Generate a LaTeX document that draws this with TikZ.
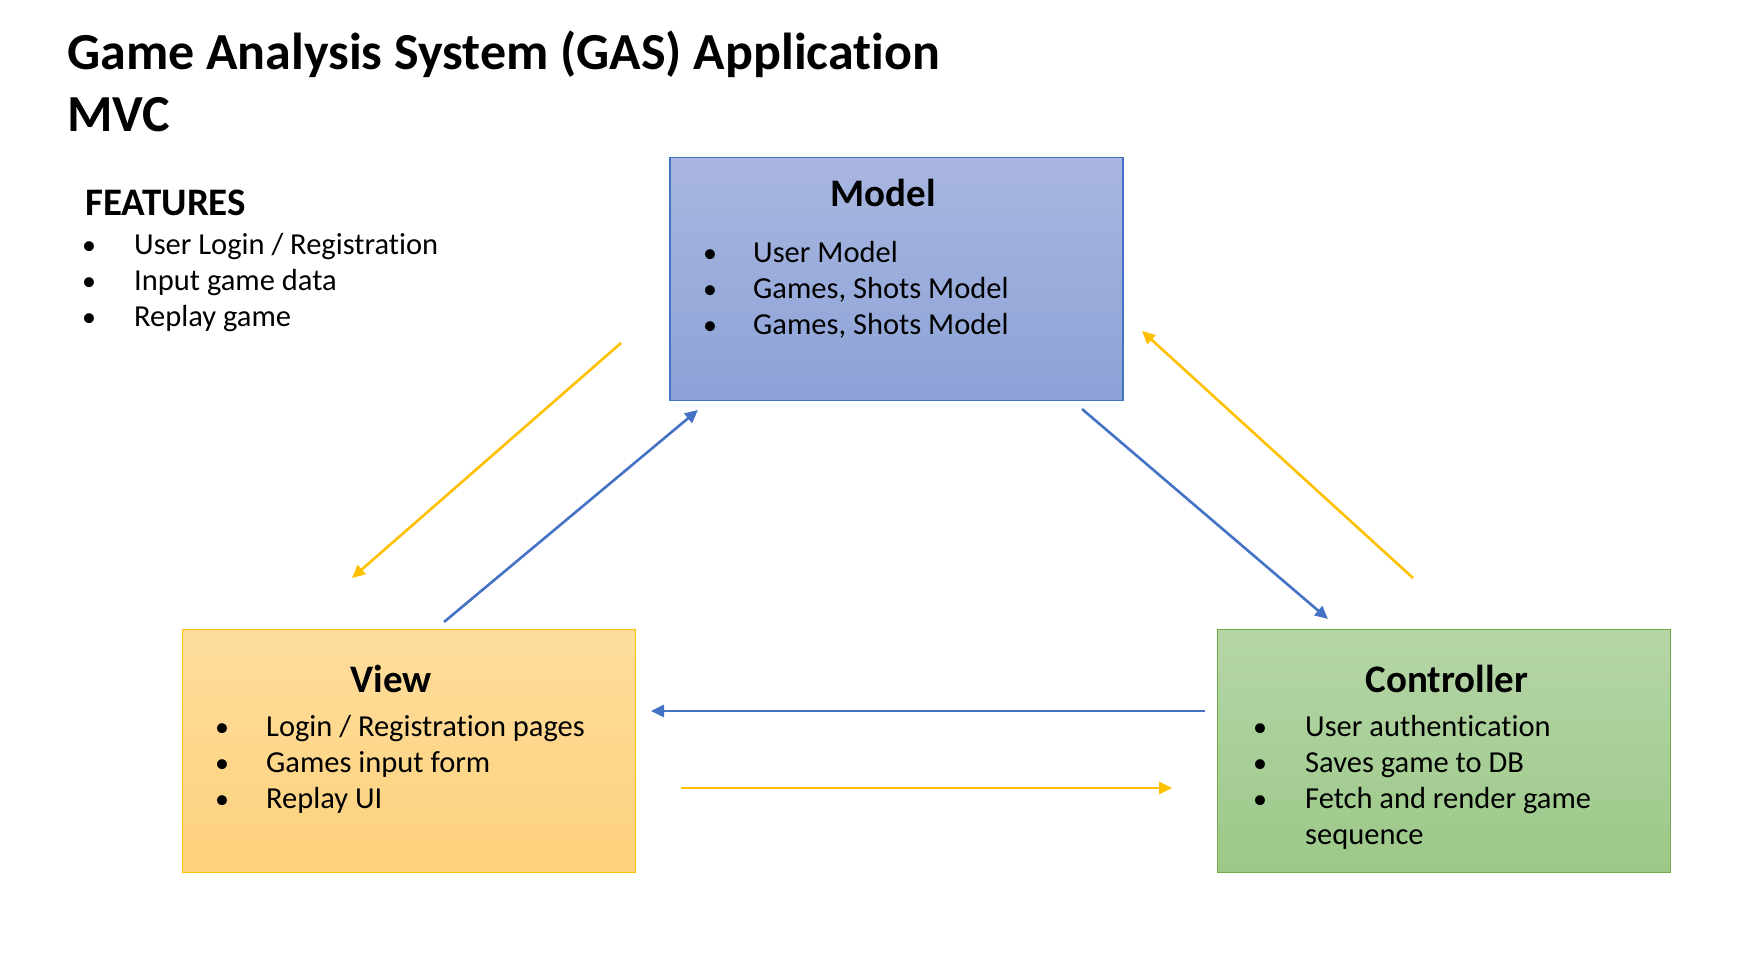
\documentclass[tikz,border=0pt]{standalone}
\usepackage{fontspec}
\setmainfont[Ligatures=NoCommon]{Carlito}
\usetikzlibrary{arrows,arrows.meta,shapes}
\definecolor{mvcblue}{HTML}{4472C4}
\definecolor{mvcgold}{HTML}{FFC000}
\definecolor{mvcgreen}{HTML}{70AD47}
\tikzstyle{box} = [draw, line width=1.2pt, minimum width=453pt, minimum height=243pt, inner sep=0pt]
\tikzstyle{modelbox} = [box, draw=mvcblue, top color={rgb,255:red,169;green,183;blue,224}, bottom color={rgb,255:red,140;green,162;blue,215}]
\tikzstyle{viewbox} = [box, draw=mvcgold, top color={rgb,255:red,254;green,221;blue,156}, bottom color={rgb,255:red,253;green,209;blue,124}]
\tikzstyle{ctrlbox} = [box, draw=mvcgreen, top color={rgb,255:red,181;green,214;blue,167}, bottom color={rgb,255:red,156;green,200;blue,136}]
\tikzstyle{title} = [anchor=base west, inner sep=0pt, font=\fontsize{52}{60}\selectfont\bfseries]
\tikzstyle{heading} = [anchor=base, inner sep=0pt, font=\fontsize{39}{46}\selectfont\bfseries]
\tikzstyle{item} = [anchor=base west, inner sep=0pt, font=\fontsize{30.5}{36}\selectfont]
\tikzstyle{dot} = [anchor=base, inner sep=0pt, font=\fontsize{28}{32}\selectfont]
\tikzstyle{flow} = [draw, line width=2.6pt, -{Triangle[length=13pt,width=12pt]}]

\begin{document}
\begin{tikzpicture}[x=1pt,y=-1pt]
    \useasboundingbox[fill=white] (0,0) rectangle (1759,953);
    % Title
    \node[title] (title) at (67,69) {Game Analysis System (GAS) Application};
    \node[title] (mvc) at (67,131) {MVC};
    % Feature list
    \node[heading, anchor=base west] (features) at (85,215) {FEATURES};
    \foreach \y/\txt in {254/{User Login / Registration}, 290/{Input game data}, 326/{Replay game}}
    {
        \node[dot] (fb\y) at (89,\y) {\textbullet};
        \node[item] (f\y) at (134,\y) {\txt};
    }
    % The three boxes
    \node[modelbox] (model) at (896.5,279) {};
    \node[viewbox] (view) at (409,751) {};
    \node[ctrlbox] (ctrl) at (1444,751) {};
    \node[heading] (modelhead) at (883,206) {Model};
    \node[heading] (viewhead) at (391,692) {View};
    \node[heading] (ctrlhead) at (1447,692) {Controller};
    % Box contents
    \foreach \y/\txt in {262/{User Model}, 298/{Games, Shots Model}, 334/{Games, Shots Model}}
    {
        \node[dot] (mb\y) at (710,\y) {\textbullet};
        \node[item] (m\y) at (753,\y) {\txt};
    }
    \foreach \y/\txt in {736/{Login / Registration pages}, 772/{Games input form}, 808/{Replay UI}}
    {
        \node[dot] (vb\y) at (222,\y) {\textbullet};
        \node[item] (v\y) at (266,\y) {\txt};
    }
    \foreach \y/\txt in {736/{User authentication}, 772/{Saves game to DB}, 808/{Fetch and render game}}
    {
        \node[dot] (cb\y) at (1260,\y) {\textbullet};
        \node[item] (c\y) at (1305,\y) {\txt};
    }
    \node[item] (c844) at (1305,844) {sequence};
    % Arrow end points
    \coordinate (mv1) at (621,343);
    \coordinate (mv2) at (352,578);
    \coordinate (vm1) at (444,622);
    \coordinate (vm2) at (698,410);
    \coordinate (mc1) at (1082,409);
    \coordinate (mc2) at (1328,619);
    \coordinate (cm1) at (1413,578);
    \coordinate (cm2) at (1142,331);
    \coordinate (cv1) at (1205,711);
    \coordinate (cv2) at (651,711);
    \coordinate (vc1) at (681,788);
    \coordinate (vc2) at (1172,788);
    % Connect them
    \foreach \source/\dest in {vm1/vm2, mc1/mc2, cv1/cv2}
        \path[flow, mvcblue] (\source) -- (\dest);
    \foreach \source/\dest in {mv1/mv2, cm1/cm2, vc1/vc2}
        \path[flow, mvcgold] (\source) -- (\dest);
\end{tikzpicture}
\end{document}
